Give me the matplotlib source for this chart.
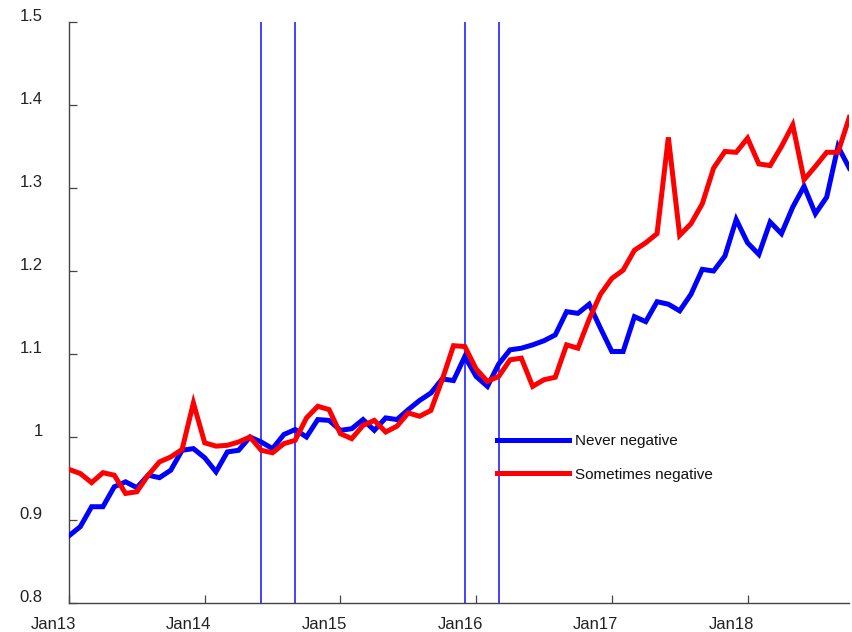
import matplotlib
matplotlib.use("Agg")
import matplotlib.pyplot as plt
import matplotlib.transforms as mtransforms
import numpy as np

plt.rcParams['font.family'] = ['Liberation Sans', 'DejaVu Sans']

# monthly series, Jan 2013 .. Oct 2018
never_negative = [
    0.881, 0.892, 0.916, 0.916, 0.940, 0.946, 0.939, 0.954, 0.951, 0.960, 0.984, 0.986,
    0.975, 0.958, 0.982, 0.984, 1.000, 0.994, 0.986, 1.003, 1.009, 1.000, 1.021, 1.020,
    1.008, 1.010, 1.021, 1.008, 1.023, 1.021, 1.033, 1.044, 1.053, 1.070, 1.068, 1.097,
    1.073, 1.061, 1.088, 1.105, 1.107, 1.111, 1.116, 1.123, 1.151, 1.149, 1.160, 1.131,
    1.103, 1.103, 1.145, 1.139, 1.163, 1.160, 1.152, 1.172, 1.202, 1.200, 1.218, 1.262,
    1.234, 1.220, 1.259, 1.245, 1.277, 1.302, 1.269, 1.289, 1.350, 1.324,
]
sometimes_negative = [
    0.961, 0.956, 0.945, 0.957, 0.954, 0.932, 0.934, 0.954, 0.970, 0.976, 0.985, 1.041,
    0.993, 0.989, 0.990, 0.994, 1.000, 0.984, 0.981, 0.992, 0.996, 1.023, 1.037, 1.033,
    1.004, 0.998, 1.014, 1.020, 1.006, 1.013, 1.029, 1.025, 1.032, 1.069, 1.110, 1.109,
    1.082, 1.067, 1.073, 1.093, 1.095, 1.061, 1.069, 1.072, 1.111, 1.107, 1.142, 1.172,
    1.191, 1.201, 1.225, 1.234, 1.245, 1.361, 1.243, 1.257, 1.281, 1.324, 1.344, 1.343,
    1.360, 1.329, 1.327, 1.350, 1.376, 1.310, 1.326, 1.343, 1.343, 1.385,
]
months = np.arange(len(never_negative))  # 0 = Jan13

# event markers (months since Jan13): Jun14, Sep14, Dec15, Mar16
event_months = [17, 20, 35, 38]

year_ticks = [0, 12, 24, 36, 48, 60]
year_labels = ['Jan13', 'Jan14', 'Jan15', 'Jan16', 'Jan17', 'Jan18']
y_ticks = [0.8, 0.9, 1.0, 1.1, 1.2, 1.3, 1.4, 1.5]
y_labels = ['0.8', '0.9', '1', '1.1', '1.2', '1.3', '1.4', '1.5']

fig = plt.figure(figsize=(8.52, 6.32), dpi=100)
ax = fig.add_axes([69 / 852, 1 - 603 / 632, (849.3 - 69) / 852, (603 - 22) / 632])

for m in event_months:
    ax.axvline(m, color='#1010ff', linewidth=1.1, zorder=1)

ax.plot(months, never_negative, color='#0000ff', linewidth=3.6,
        solid_joinstyle='miter', label='Never negative', zorder=3)
ax.plot(months, sometimes_negative, color='#ff0000', linewidth=3.6,
        solid_joinstyle='miter', label='Sometimes negative', zorder=3)

ax.set_xlim(0, months[-1])
ax.set_ylim(0.8, 1.5)
ax.set_xticks(year_ticks)
ax.set_xticklabels(year_labels)
ax.set_yticks(y_ticks)
ax.set_yticklabels(y_labels)

spine_col = '#444444'
for side in ['top', 'right']:
    ax.spines[side].set_visible(False)
for side in ['left', 'bottom']:
    ax.spines[side].set_color(spine_col)
    ax.spines[side].set_linewidth(1.0)

ax.tick_params(axis='both', direction='in', length=6, width=0.9, color=spine_col,
               labelsize=12, labelcolor='#222222')
ax.tick_params(axis='y', pad=19)
ax.tick_params(axis='x', pad=10)

# label placement as in the original export
dx = mtransforms.ScaledTranslation(-16 / 100, 0, fig.dpi_scale_trans)
for lbl in ax.get_xticklabels():
    lbl.set_transform(lbl.get_transform() + dx)
dy = mtransforms.ScaledTranslation(0, 7 / 100, fig.dpi_scale_trans)
for lbl in ax.get_yticklabels():
    lbl.set_transform(lbl.get_transform() + dy)

leg = ax.legend(loc='center left', bbox_to_anchor=((497 - 69) / (849.3 - 69), (603 - 458) / (603 - 22)),
                frameon=False, fontsize=11, handlelength=4.7, handletextpad=0.4,
                labelspacing=1.25, borderpad=0, borderaxespad=0)
for t in leg.get_texts():
    t.set_color('#111111')

fig.savefig('out.png', dpi=100)
